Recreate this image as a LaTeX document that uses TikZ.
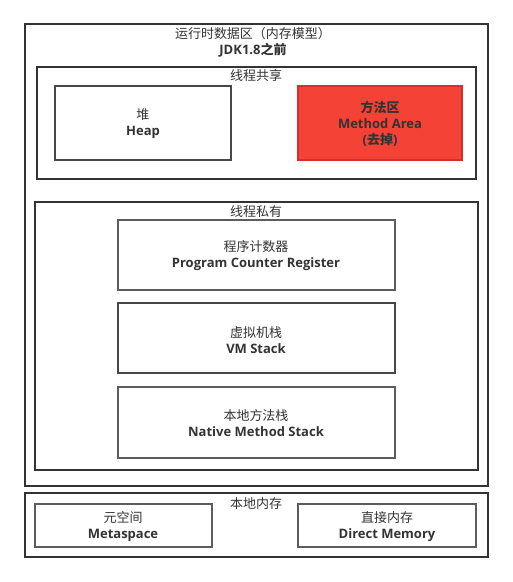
\documentclass[tikz,border=0pt]{standalone}
\usepackage{fontspec}
\setmainfont{Open Sans}
\newfontfamily\cjk{Noto Sans CJK SC}
\definecolor{ink}{HTML}{333333}
\definecolor{redfill}{HTML}{F44336}
\definecolor{redline}{HTML}{D32F2F}
\tikzset{
  frame/.style={draw=ink, line width=2pt},
  box/.style={draw=ink!90, line width=2pt, fill=white},
  lbl/.style={text=ink, align=center, font=\fontsize{13}{16}\selectfont, inner sep=0pt},
}
\begin{document}
\begin{tikzpicture}[x=1pt,y=-1pt]
\useasboundingbox (0,0) rectangle (513,582);
% outer runtime data area
\draw[frame] (25,24) rectangle (488,486);
\node[lbl] (title) at (253,42) {{\cjk 运行时数据区（内存模型）}\\\textbf{JDK1.8}{\cjk\bfseries 之前}};
% shared
\draw[frame] (37,67) rectangle (476,179);
\node[lbl] (shared) at (256,76) {\cjk 线程共享};
\draw[box] (55,86) rectangle (231,160);
\node[lbl] (heap) at (143,124) {{\cjk 堆}\\\textbf{Heap}};
\draw[draw=redline, line width=2pt, fill=redfill] (298,86) rectangle (462,160);
\node[lbl] (method) at (380,124) {{\cjk\bfseries 方法区}\\\textbf{Method Area}\\\textbf{(}{\cjk\bfseries 去掉}\textbf{)}};
% private
\draw[frame] (35,202) rectangle (478,470);
\node[lbl] (private) at (256,212) {\cjk 线程私有};
\draw[box, draw=ink!80] (118,220) rectangle (395,290);
\node[lbl] (pc) at (256,256) {{\cjk 程序计数器}\\\textbf{Program Counter Register}};
\draw[box] (118,303) rectangle (395,373);
\node[lbl] (vm) at (256,340) {{\cjk 虚拟机栈}\\\textbf{VM Stack}};
\draw[box, draw=ink!80] (118,387) rectangle (395,458);
\node[lbl] (native) at (256,423) {{\cjk 本地方法栈}\\\textbf{Native Method Stack}};
% native memory
\draw[frame] (25,493) rectangle (488,557);
\node[lbl] (nm) at (256,504) {\cjk 本地内存};
\draw[box, draw=ink!80] (35,504) rectangle (212,547);
\node[lbl] (meta) at (123,527) {{\cjk 元空间}\\\textbf{Metaspace}};
\draw[box, draw=ink!80] (298,504) rectangle (476,547);
\node[lbl] (direct) at (387,527) {{\cjk 直接内存}\\\textbf{Direct Memory}};
\end{tikzpicture}
\end{document}
